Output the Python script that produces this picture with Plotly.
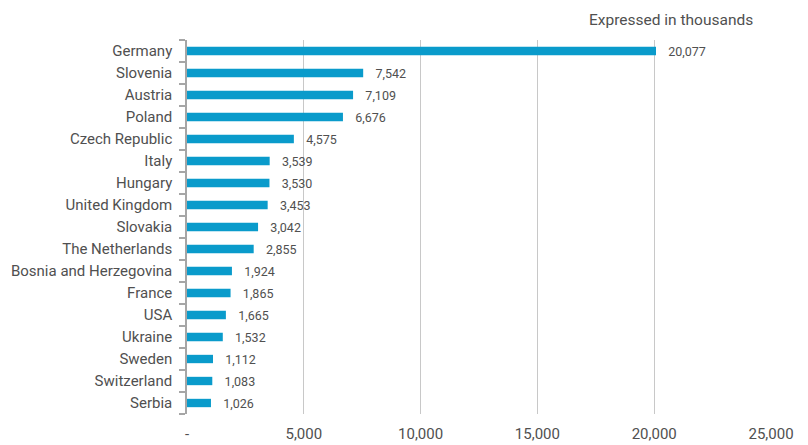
import plotly.graph_objects as go

countries = ["Germany", "Slovenia", "Austria", "Poland", "Czech Republic", "Italy",
             "Hungary", "United Kingdom", "Slovakia", "The Netherlands",
             "Bosnia and Herzegovina", "France", "USA", "Ukraine", "Sweden",
             "Switzerland", "Serbia"]
values = [20077, 7542, 7109, 6676, 4575, 3539, 3530, 3453, 3042, 2855,
          1924, 1865, 1665, 1532, 1112, 1083, 1026]
x_ticks = [0, 5000, 10000, 15000, 20000, 25000]
x_tick_labels = ["-", "5,000", "10,000", "15,000", "20,000", "25,000"]

BAR = "#0a9bcb"
TEXT = "#505050"
GRID = "#c8c8c8"
FONT = "Roboto"

fig = go.Figure(go.Bar(
    x=values,
    y=countries,
    orientation="h",
    width=0.38,
    marker=dict(color=BAR, line=dict(width=0)),
    text=["   " + f"{v:,}" for v in values],
    textposition="outside",
    constraintext="none",
    textfont=dict(family=FONT, size=12.5, color=TEXT),
    cliponaxis=False,
))

fig.update_layout(
    width=808, height=445,
    margin=dict(l=187, r=37, t=40, b=31),
    paper_bgcolor="white", plot_bgcolor="white",
    showlegend=False,
    font=dict(family=FONT, color=TEXT),
    xaxis=dict(
        range=[0, 25000],
        tickvals=x_ticks, ticktext=x_tick_labels,
        showgrid=True, gridcolor=GRID, gridwidth=1,
        zeroline=False, showline=False,
        tickfont=dict(size=15, color=TEXT),
        ticklabelstandoff=9,
        automargin=False,
        fixedrange=True,
    ),
    yaxis=dict(
        categoryorder="array", categoryarray=countries[::-1],
        autorange=False, range=[-0.5, len(countries) - 0.5],
        showline=True, linecolor="#a6a6a6", linewidth=1.5,
        ticks="outside", tickson="boundaries", ticklen=6, tickcolor="#a6a6a6",
        tickwidth=1.5,
        tickfont=dict(size=15, color=TEXT),
        ticklabelstandoff=10,
        showgrid=False, zeroline=False,
        automargin=False,
        fixedrange=True,
    ),
    annotations=[dict(
        text="Expressed in thousands",
        xref="paper", yref="paper",
        x=(755 - 187) / 584, y=1 + 20 / 374,
        xanchor="right", yanchor="middle",
        showarrow=False,
        font=dict(family=FONT, size=15.5, color=TEXT),
    )],
)

fig.write_html("out.html")
